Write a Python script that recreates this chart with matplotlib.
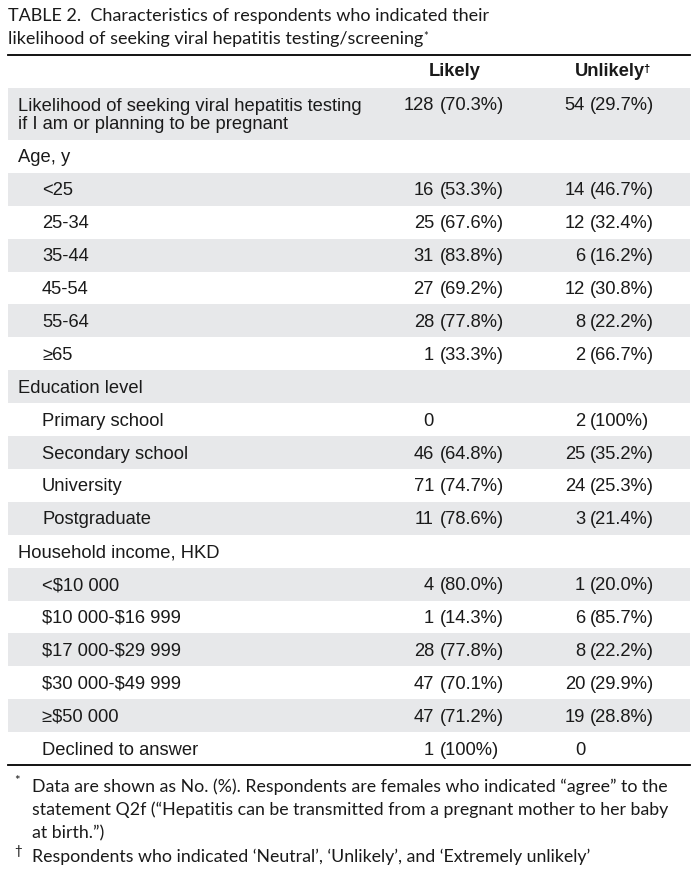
import matplotlib
matplotlib.use("Agg")
import matplotlib.pyplot as plt
from matplotlib.patches import Rectangle

plt.rcParams["text.parse_math"] = False

# table content
title_lines = ["TABLE 2.  Characteristics of respondents who indicated their",
               "likelihood of seeking viral hepatitis testing/screening"]
col_headers = ["Likely", "Unlikely"]

labels = ["Likelihood of seeking viral hepatitis testing\nif I am or planning to be pregnant",
          "Age, y", "<25", "25-34", "35-44", "45-54", "55-64", "\u226565",
          "Education level", "Primary school", "Secondary school", "University", "Postgraduate",
          "Household income, HKD", "<$10 000", "$10 000-$16 999", "$17 000-$29 999",
          "$30 000-$49 999", "\u2265$50 000", "Declined to answer"]
indent = [0, 0, 1, 1, 1, 1, 1, 1, 0, 1, 1, 1, 1, 0, 1, 1, 1, 1, 1, 1]
likely_n = [128, None, 16, 25, 31, 27, 28, 1, None, 0, 46, 71, 11, None, 4, 1, 28, 47, 47, 1]
likely_pct = ["70.3", None, "53.3", "67.6", "83.8", "69.2", "77.8", "33.3", None, None,
              "64.8", "74.7", "78.6", None, "80.0", "14.3", "77.8", "70.1", "71.2", "100"]
unlikely_n = [54, None, 14, 12, 6, 12, 8, 2, None, 2, 25, 24, 3, None, 1, 6, 8, 20, 19, 0]
unlikely_pct = ["29.7", None, "46.7", "32.4", "16.2", "30.8", "22.2", "66.7", None, "100",
                "35.2", "25.3", "21.4", None, "20.0", "85.7", "22.2", "29.9", "28.8", None]

footnote_marks = ["*", "\u2020"]
footnote_lines = [["Data are shown as No. (%). Respondents are females who indicated \u201cagree\u201d to the",
                   "statement Q2f (\u201cHepatitis can be transmitted from a pregnant mother to her baby",
                   "at birth.\u201d)"],
                  ["Respondents who indicated \u2018Neutral\u2019, \u2018Unlikely\u2019, and \u2018Extremely unlikely\u2019"]]

W, H = 695, 871
fig = plt.figure(figsize=(W / 100, H / 100), dpi=100)
ax = fig.add_axes([0, 0, 1, 1])
ax.set_xlim(0, W)
ax.set_ylim(H, 0)
ax.axis("off")

body = dict(family="Liberation Sans", fontsize=13.2, color="#1a1a1a")
gill = dict(family=["Lato", "DejaVu Sans"], color="#1a1a1a")
band = "#e7e8ea"
left, right = 8, 690

# title
for i, line in enumerate(title_lines):
    t = ax.text(8, 16 + i * 23, line, va="center", ha="left", fontsize=13.0, **gill)
ax.annotate("*", xy=(1, 1.0), xycoords=t, va="top", ha="left", fontsize=8, **gill)

ax.plot([left, right], [55, 55], color="black", lw=1.3)

# header
ax.text(455, 72, col_headers[0], ha="center", va="center", fontweight="bold", **body)
h2 = ax.text(610, 72, col_headers[1], ha="center", va="center", fontweight="bold", **body)
ax.annotate("\u2020", xy=(1, 0.95), xycoords=h2, xytext=(-1, 0), textcoords="offset points",
            va="top", ha="left", family="Liberation Sans", fontsize=8, fontweight="bold")

# rows
n1_x, p1_x = 434, 440
n2_x, p2_x = 585, 590
first_h = 52
row_h = (765 - 88 - first_h) / (len(labels) - 1)
top = 88
for i, lab in enumerate(labels):
    h = first_h if i == 0 else row_h
    if i % 2 == 0:
        ax.add_patch(Rectangle((left, top), right - left, h, color=band, lw=0))
    yc = top + h / 2
    ax.text(18 + 24 * indent[i], yc + 1.5, lab, ha="left", va="center", linespacing=1.15, **body)
    yv = top + 17 if i == 0 else yc + 1.5
    for n, p, nx, px in [(likely_n[i], likely_pct[i], n1_x, p1_x),
                         (unlikely_n[i], unlikely_pct[i], n2_x, p2_x)]:
        if n is None:
            continue
        ax.text(nx, yv, str(n), ha="right", va="center", **body)
        if p is not None:
            ax.text(px, yv, "(" + p + "%)", ha="left", va="center", **body)
    top += h

ax.plot([left, right], [765, 765], color="black", lw=1.3)

# footnotes
y = 787
for mark, lines in zip(footnote_marks, footnote_lines):
    ax.text(14, y - 6, mark, ha="left", va="center", fontsize=9.5, **gill)
    for line in lines:
        ax.text(32, y, line, ha="left", va="center", fontsize=12.8, **gill)
        y += 23
    y += 1
fig.savefig("out.png", dpi=100)
